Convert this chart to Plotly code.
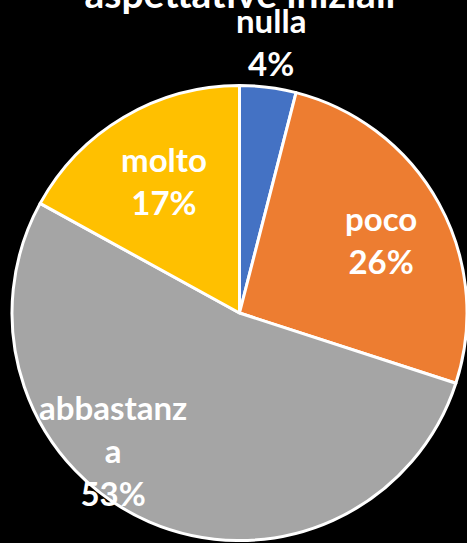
import math
import plotly.graph_objects as go

labels = ["nulla", "poco", "abbastanza", "molto"]
display_labels = ["nulla", "poco", "abbastanz<br>a", "molto"]
values = [4, 26, 53, 17]
colors = ["#4472C4", "#ED7D31", "#A5A5A5", "#FFC000"]
title_text = "aspettative iniziali"

# label placement style (radial fraction of radius, angular offset in degrees)
label_radius_frac = [1.2, 0.70, 0.82, 0.67]
label_angle_offset = [-0.5, 1.4, 19.4, 1.0]

W, H = 467, 543
dom_x = [12 / W, 1.0]
dom_y = [2 / H, 458 / H]

fig = go.Figure(go.Pie(
    labels=labels,
    values=values,
    sort=False,
    direction="clockwise",
    rotation=0,
    marker=dict(colors=colors, line=dict(color="white", width=3)),
    textinfo="none",
    domain=dict(x=dom_x, y=dom_y),
    showlegend=False,
    hoverinfo="label+percent",
    automargin=False,
))

# label annotations placed from the data (slice mid-angles)
cx_px = (dom_x[0] + dom_x[1]) / 2 * W
cy_px = (dom_y[0] + dom_y[1]) / 2 * H  # from bottom
R_px = min((dom_x[1] - dom_x[0]) * W, (dom_y[1] - dom_y[0]) * H) / 2
total = sum(values)
cum = 0
for lab, v, frac, off in zip(display_labels, values, label_radius_frac, label_angle_offset):
    mid = (cum + v / 2) / total * 360 + off
    cum += v
    a = math.radians(mid)
    x_px = cx_px + frac * R_px * math.sin(a)
    y_px = cy_px + frac * R_px * math.cos(a)
    pct = round(v / total * 100)
    fig.add_annotation(
        x=x_px / W, y=y_px / H, xref="paper", yref="paper",
        text=f"{lab}<br>{pct}%", showarrow=False,
        xanchor="center", yanchor="middle", align="center",
        font=dict(family="Lato", size=33, color="white", weight="bold"),
    )

fig.update_layout(
    width=W, height=H,
    paper_bgcolor="black", plot_bgcolor="black",
    margin=dict(l=0, r=0, t=0, b=0),
    title=dict(text=title_text, x=240 / W, xanchor="center", y=1 - 8 / H, yanchor="bottom",
               font=dict(family="Lato", size=39, color="white", weight="bold")),
)

fig.write_html(
    "out.html",
    config={"displayModeBar": False},
    post_script="document.body.style.margin='0';document.body.style.background='black';",
)
